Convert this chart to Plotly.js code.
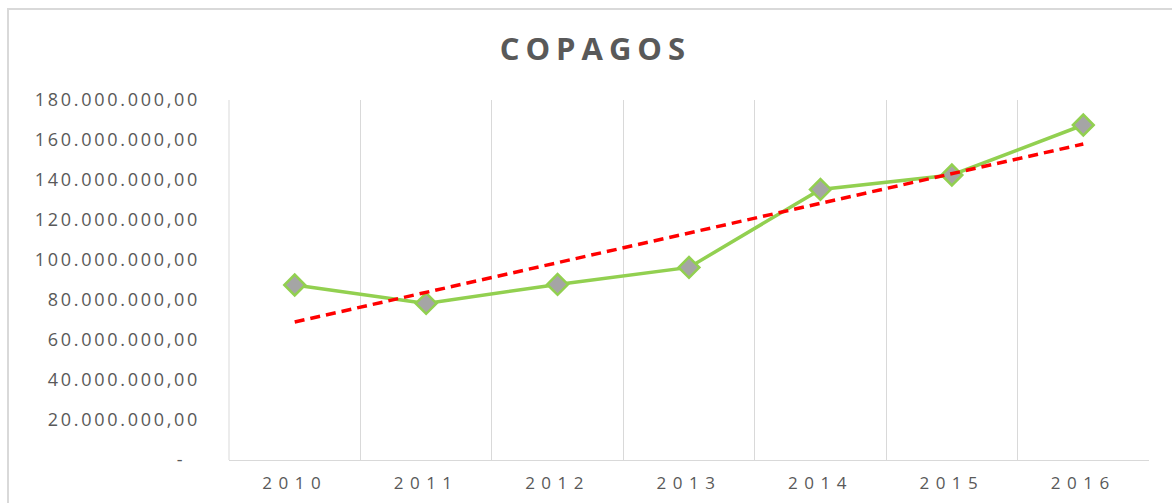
<!DOCTYPE html>
<html>
<head>
<meta charset="utf-8">
<script src="https://cdn.plot.ly/plotly-3.0.1.min.js"></script>
<style>
  html, body { margin: 0; padding: 0; background: #fff; }
  #chart { width: 1172px; height: 503px; }
  .gtitle { letter-spacing: 6px; }
  .xtick text { letter-spacing: 6.5px; }
  .ytick text { letter-spacing: 2.7px; }
</style>
</head>
<body>
<div id="chart"></div>
<script>
const years = ['2010', '2011', '2012', '2013', '2014', '2015', '2016'];
const copagos = [87500000, 78300000, 87800000, 96300000, 135300000, 142500000, 167500000];
const trendYears = ['2010', '2016'];
const trendValues = [69000000, 158000000];
const yTickVals = [0, 20000000, 40000000, 60000000, 80000000, 100000000, 120000000, 140000000, 160000000, 180000000];
const yTickText = ['-\u00a0\u00a0', '20.000.000,00', '40.000.000,00', '60.000.000,00', '80.000.000,00',
  '100.000.000,00', '120.000.000,00', '140.000.000,00', '160.000.000,00', '180.000.000,00'];

const textColor = '#595959';
const fontFam = '"Open Sans", "Liberation Sans", sans-serif';

const traces = [
  {
    x: years, y: copagos, type: 'scatter', mode: 'lines+markers',
    line: { color: '#92d050', width: 3.5 },
    marker: { symbol: 'diamond', size: 16, color: '#a5a5a5', line: { color: '#92d050', width: 2.5 } },
    showlegend: false
  },
  {
    x: trendYears, y: trendValues, type: 'scatter', mode: 'lines',
    line: { color: '#ff0000', width: 3.5, dash: '10px,6px' },
    hoverinfo: 'skip', showlegend: false
  }
];

const layout = {
  width: 1172, height: 503,
  margin: { l: 229, r: 23, t: 100, b: 43 },
  paper_bgcolor: '#ffffff', plot_bgcolor: '#ffffff',
  font: { family: fontFam, color: textColor },
  title: {
    text: '<b>COPAGOS</b>',
    font: { family: fontFam, size: 31, color: textColor },
    xref: 'container', x: 0.508, xanchor: 'center',
    yref: 'container', y: 0.903, yanchor: 'middle'
  },
  xaxis: {
    type: 'category', range: [-0.5, 6.5],
    categoryorder: 'array', categoryarray: years,
    tickson: 'boundaries', ticks: '',
    showgrid: true, gridcolor: '#d9d9d9', gridwidth: 1,
    showline: true, linecolor: '#d9d9d9', linewidth: 1,
    zeroline: false,
    tickfont: { family: fontFam, size: 17, color: textColor },
    ticklabelstandoff: 8,
    fixedrange: true
  },
  yaxis: {
    range: [0, 180000000],
    tickmode: 'array', tickvals: yTickVals, ticktext: yTickText,
    showgrid: false, zeroline: false, showline: false, ticks: '',
    tickfont: { family: fontFam, size: 18, color: textColor },
    ticklabelstandoff: 28,
    fixedrange: true
  },
  shapes: [
    {
      type: 'rect', xref: 'paper', yref: 'paper',
      x0: -0.2402, x1: 1.5, y0: -0.5, y1: 1.2528,
      line: { color: '#d9d9d9', width: 2 }, fillcolor: 'rgba(0,0,0,0)', layer: 'below'
    },
    {
      type: 'line', xref: 'paper', yref: 'paper',
      x0: 0, x1: 0, y0: 0, y1: 1,
      line: { color: '#d9d9d9', width: 1 }, layer: 'below'
    }
  ]
};

Plotly.newPlot('chart', traces, layout, { displayModeBar: false, staticPlot: true });
</script>
</body>
</html>
